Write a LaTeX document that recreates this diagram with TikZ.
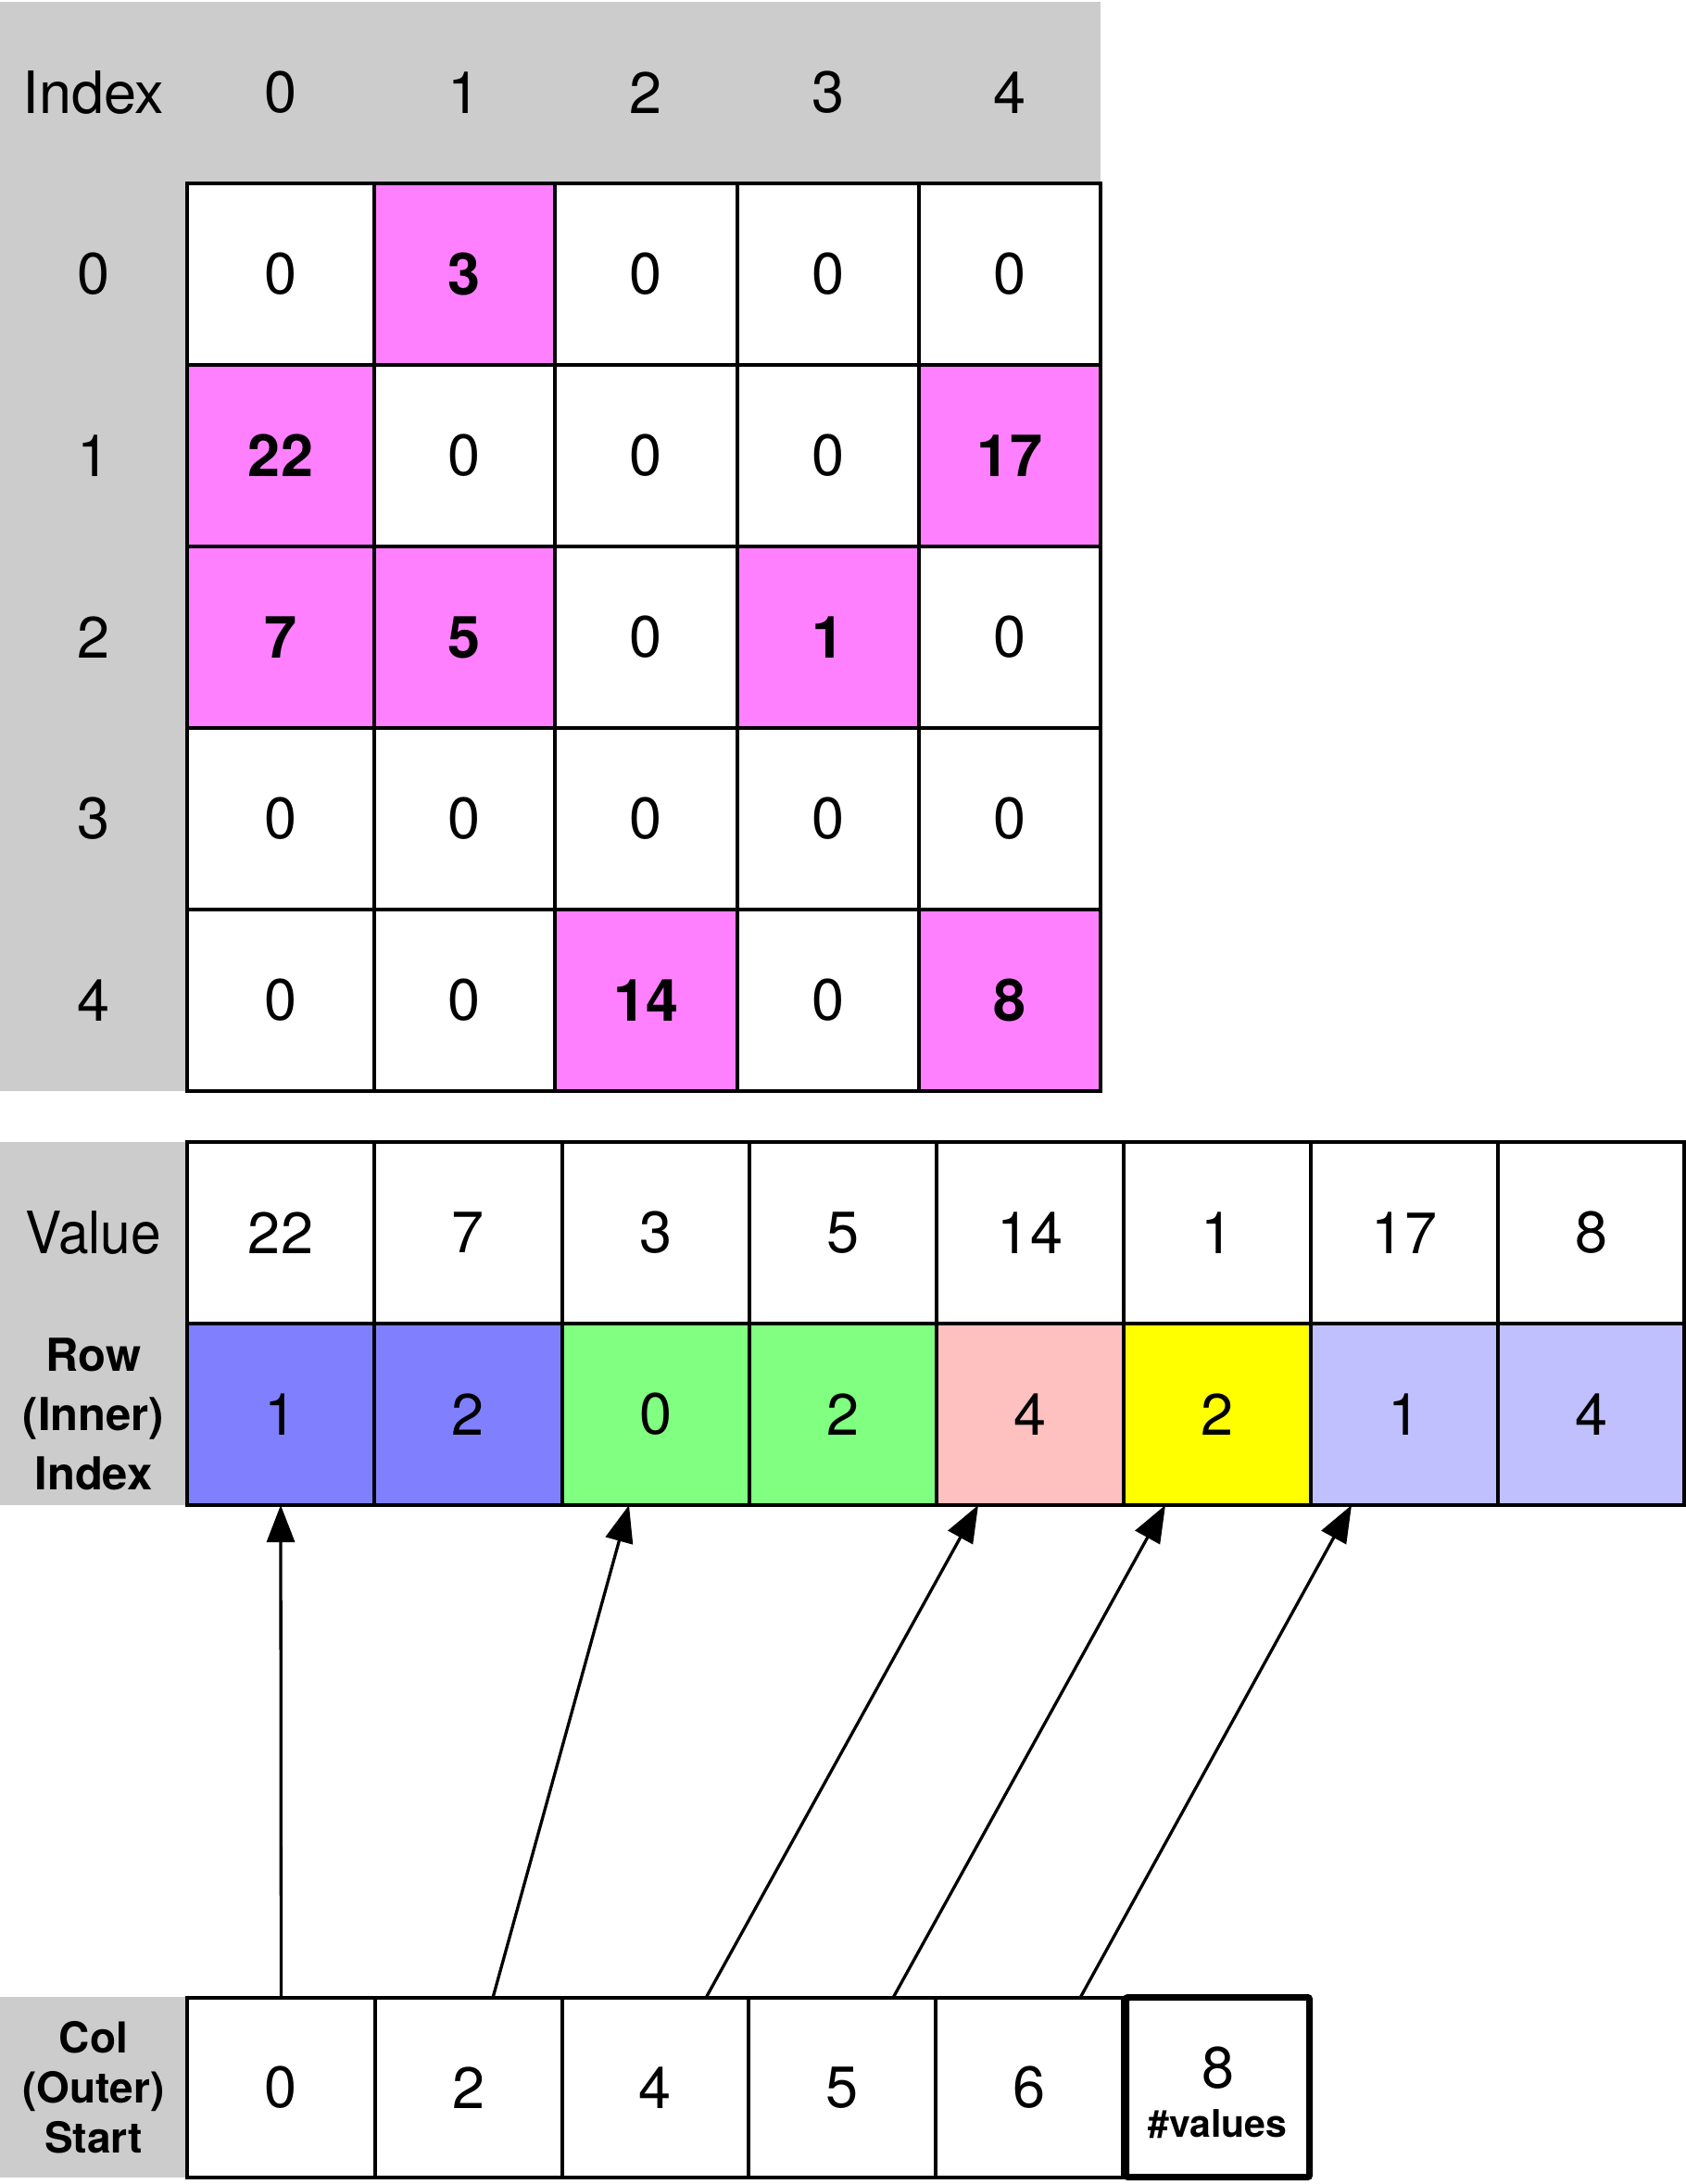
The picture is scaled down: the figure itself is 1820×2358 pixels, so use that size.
\documentclass[tikz,border=0pt]{standalone}
\usepackage{graphicx}
\usepackage{fontspec}
\setmainfont{TeX Gyre Heros}
\usetikzlibrary{arrows.meta}
\definecolor{bandgray}{HTML}{CCCCCC}
\definecolor{nzpink}{HTML}{FF80FF}
\definecolor{ixblue}{HTML}{8080FF}
\definecolor{ixgreen}{HTML}{80FF80}
\definecolor{ixsalmon}{HTML}{FFC0C0}
\definecolor{ixyellow}{HTML}{FFFF00}
\definecolor{ixlav}{HTML}{C0C0FF}
\newcommand\mycell[7]{%
  \pgfmathsetmacro\mycx{(#2+#3)/2}%
  \pgfmathsetmacro\mycy{(#4+#5)/2}%
  \pgfmathsetmacro\mycw{#3-#2}%
  \pgfmathsetmacro\mych{#5-#4}%
  \node[cell,#6,minimum width=\mycw pt,minimum height=\mych pt] (#1) at (\mycx,\mycy) {#7};}
\begin{document}
\begin{tikzpicture}[x=1pt,y=-1pt,
  cell/.style={draw=black, line width=3.3pt, inner sep=0pt, outer sep=0pt, fill=white,
    font=\fontsize{63}{75}\selectfont},
  nz/.style={fill=nzpink, font=\fontsize{63}{75}\selectfont\bfseries},
  lab/.style={inner sep=0pt, font=\fontsize{63}{75}\selectfont},
  blab/.style={inner sep=0pt, align=center, font=\fontsize{49}{64}\selectfont\bfseries},
  clab/.style={inner sep=0pt, align=center, font=\fontsize{46}{54}\selectfont\bfseries},
  ptr/.style={line width=3.3pt, -{Triangle[length=40pt,width=30pt]}}]
\useasboundingbox (0,0) rectangle (1820,2358);
\fill[white] (0,0) rectangle (1820,2358);
% gray backgrounds
\fill[bandgray] (0,2) rectangle (1188,198);
\fill[bandgray] (0,198) rectangle (202,1178);
\fill[bandgray] (0,1233) rectangle (202,1625);
\fill[bandgray] (0,2156) rectangle (202,2351);
% header labels
\node[lab] (hidx) at (101,100) {Index};
\node[lab] (hc0) at (303,100) {0};
\node[lab] (hc1) at (501.5,100) {1};
\node[lab] (hc2) at (697.5,100) {2};
\node[lab] (hc3) at (894,100) {3};
\node[lab] (hc4) at (1090,100) {4};
\node[lab] (hr0) at (101,296) {0};
\node[lab] (hr1) at (101,492) {1};
\node[lab] (hr2) at (101,688) {2};
\node[lab] (hr3) at (101,884) {3};
\node[lab] (hr4) at (101,1080) {4};
% matrix
\mycell{m00}{202}{404}{198}{394}{}{0}
\mycell{m01}{404}{599}{198}{394}{nz}{3}
\mycell{m02}{599}{796}{198}{394}{}{0}
\mycell{m03}{796}{992}{198}{394}{}{0}
\mycell{m04}{992}{1188}{198}{394}{}{0}
\mycell{m10}{202}{404}{394}{590}{nz}{22}
\mycell{m11}{404}{599}{394}{590}{}{0}
\mycell{m12}{599}{796}{394}{590}{}{0}
\mycell{m13}{796}{992}{394}{590}{}{0}
\mycell{m14}{992}{1188}{394}{590}{nz}{17}
\mycell{m20}{202}{404}{590}{786}{nz}{7}
\mycell{m21}{404}{599}{590}{786}{nz}{5}
\mycell{m22}{599}{796}{590}{786}{}{0}
\mycell{m23}{796}{992}{590}{786}{nz}{1}
\mycell{m24}{992}{1188}{590}{786}{}{0}
\mycell{m30}{202}{404}{786}{982}{}{0}
\mycell{m31}{404}{599}{786}{982}{}{0}
\mycell{m32}{599}{796}{786}{982}{}{0}
\mycell{m33}{796}{992}{786}{982}{}{0}
\mycell{m34}{992}{1188}{786}{982}{}{0}
\mycell{m40}{202}{404}{982}{1178}{}{0}
\mycell{m41}{404}{599}{982}{1178}{}{0}
\mycell{m42}{599}{796}{982}{1178}{nz}{14}
\mycell{m43}{796}{992}{982}{1178}{}{0}
\mycell{m44}{992}{1188}{982}{1178}{nz}{8}
% value / row index table
\node[lab] (lval) at (101,1331) {\scalebox{0.93}[1]{Value}};
\node[blab] (lrow) at (101,1527) {Row\\(Inner)\\Index};
\mycell{v0}{202}{404}{1233}{1429}{}{22}
\mycell{v1}{404}{607}{1233}{1429}{}{7}
\mycell{v2}{607}{809}{1233}{1429}{}{3}
\mycell{v3}{809}{1011}{1233}{1429}{}{5}
\mycell{v4}{1011}{1213}{1233}{1429}{}{14}
\mycell{v5}{1213}{1415}{1233}{1429}{}{1}
\mycell{v6}{1415}{1617}{1233}{1429}{}{17}
\mycell{v7}{1617}{1818}{1233}{1429}{}{8}
\mycell{r0}{202}{404}{1429}{1625}{fill=ixblue}{1}
\mycell{r1}{404}{607}{1429}{1625}{fill=ixblue}{2}
\mycell{r2}{607}{809}{1429}{1625}{fill=ixgreen}{0}
\mycell{r3}{809}{1011}{1429}{1625}{fill=ixgreen}{2}
\mycell{r4}{1011}{1213}{1429}{1625}{fill=ixsalmon}{4}
\mycell{r5}{1213}{1415}{1429}{1625}{fill=ixyellow}{2}
\mycell{r6}{1415}{1617}{1429}{1625}{fill=ixlav}{1}
\mycell{r7}{1617}{1818}{1429}{1625}{fill=ixlav}{4}
% column start table
\node[clab] (lcol) at (101,2254) {Col\\(Outer)\\Start};
\mycell{b0}{202}{405}{2157}{2351}{}{0}
\mycell{b1}{405}{607}{2157}{2351}{}{2}
\mycell{b2}{607}{808}{2157}{2351}{}{4}
\mycell{b3}{808}{1010}{2157}{2351}{}{5}
\mycell{b4}{1010}{1212}{2157}{2351}{}{6}
\mycell{b5}{1215.5}{1413.5}{2156.5}{2350.5}{line width=7pt, rounded corners=2pt}{}
\node[lab, anchor=base] (b5num) at ([yshift=-1pt]b5.center) {8};
\node[inner sep=0pt, anchor=base, font=\fontsize{41}{48}\selectfont\bfseries] (b5txt) at ([yshift=-54pt]b5.center) {\#values};
% pointers
\draw[ptr] (b0.north) -- (r0.south);
\draw[ptr] ([xshift=26pt]b1.north) -- ([xshift=-29pt]r2.south);
\draw[ptr] ([xshift=54.5pt]b2.north) -- ([xshift=-56pt]r4.south);
\draw[ptr] ([xshift=55pt]b3.north) -- ([xshift=-56pt]r5.south);
\draw[ptr] ([xshift=55pt]b4.north) -- ([xshift=-57pt]r6.south);
\end{tikzpicture}
\end{document}
